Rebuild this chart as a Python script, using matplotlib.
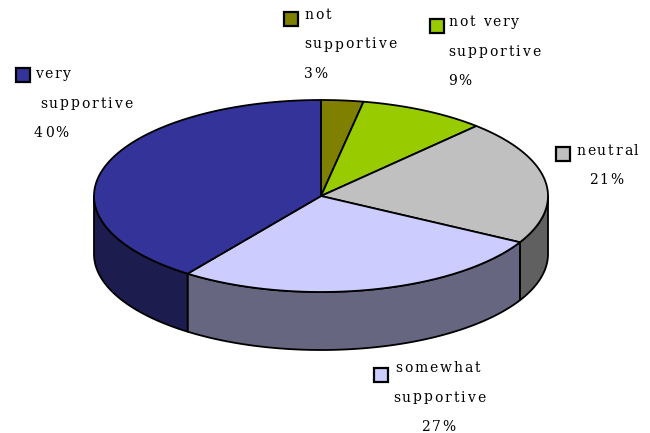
import numpy as np
import matplotlib
matplotlib.use('Agg')
import matplotlib.pyplot as plt
from matplotlib.font_manager import FontProperties, findfont, get_font
from matplotlib.patches import Polygon, Rectangle

# survey answers, clockwise from 12 o'clock
labels = ['not\nsupportive', 'not very\nsupportive', 'neutral', 'somewhat\nsupportive', 'very\nsupportive']
shares = [3, 9, 21, 27, 40]
top_colors = ['#808000', '#99cc00', '#c0c0c0', '#ccccff', '#333399']
side_colors = ['#404000', '#4d6600', '#606060', '#666680', '#1c1c4f']

# where each label block sits (left x of each line, baseline y of each line) in pixels
label_lines_x = [[304, 304, 304], [448, 448, 448], [576, 589], [395, 393, 421], [35, 40, 34]]
label_top = [19, 26, 155, 372, 78]
box_xy = [(284, 12), (430, 19), (556, 147), (374, 368), (16, 68)]

cx, cy = 321, 196      # centre of the top face
rx, ry = 227, 96       # half axes
depth = 58
line_gap = 29.5

fig = plt.figure(figsize=(6.5, 4.33), dpi=100)
ax = fig.add_axes([0, 0, 1, 1])
ax.set_xlim(0, 650)
ax.set_ylim(433, 0)
ax.axis('off')


def rim(t, dy=0):
    return np.column_stack([cx + rx * np.sin(t), cy - ry * np.cos(t) + dy])


fracs = np.array(shares, dtype=float) / sum(shares)
edges = np.concatenate([[0], np.cumsum(fracs)]) * 2 * np.pi

# front walls first
for i in range(len(shares)):
    t1 = max(edges[i], np.pi / 2)
    t2 = min(edges[i + 1], 3 * np.pi / 2)
    if t2 <= t1:
        continue
    t = np.linspace(t1, t2, 200)
    pts = np.vstack([rim(t), rim(t[::-1], depth)])
    ax.add_patch(Polygon(pts, closed=True, facecolor=side_colors[i],
                         edgecolor='black', linewidth=1.3, joinstyle='round'))

# top face wedges
for i in range(len(shares)):
    t = np.linspace(edges[i], edges[i + 1], 200)
    pts = np.vstack([[cx, cy], rim(t)])
    ax.add_patch(Polygon(pts, closed=True, facecolor=top_colors[i],
                         edgecolor='black', linewidth=1.3, joinstyle='round'))

fp = FontProperties(family='DejaVu Serif', size=10)
font = get_font(findfont(fp))
font.set_size(10, 100)


def advance(ch):
    return font.load_char(ord(ch)).linearHoriAdvance / 65536


# letter spacing so that "supportive" runs about 92 px
tracking = (92 - sum(advance(c) for c in 'supportive')) / 9


def spaced_text(x, y, s):
    for ch in s:
        ax.text(x, y, ch, fontproperties=fp, color='black', ha='left', va='baseline')
        x += advance(ch) + tracking


for i in range(len(shares)):
    bx, by = box_xy[i]
    ax.add_patch(Rectangle((bx, by), 14, 14, facecolor=top_colors[i],
                           edgecolor='black', linewidth=1.6))
    lines = labels[i].split('\n') + [f'{shares[i]}%']
    for j, line in enumerate(lines):
        spaced_text(label_lines_x[i][j], label_top[i] + j * line_gap, line)

fig.savefig('out.png', dpi=100)
